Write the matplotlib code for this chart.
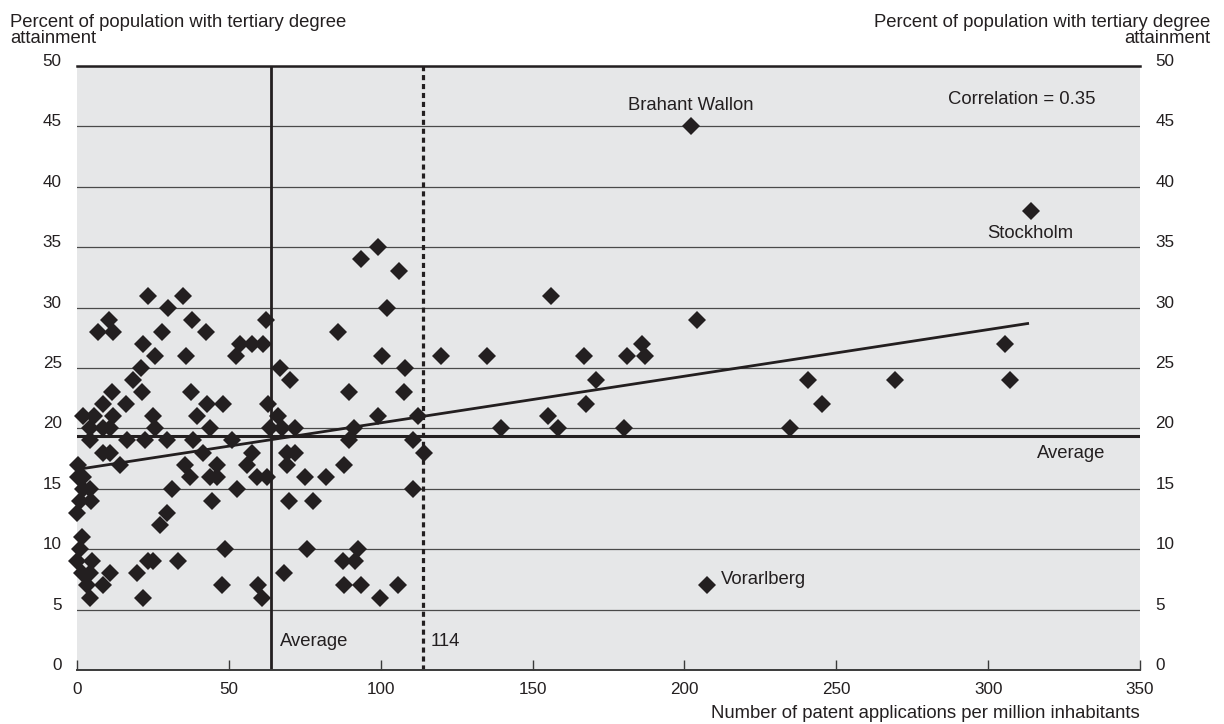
import matplotlib
matplotlib.use("Agg")
import matplotlib.pyplot as plt
import numpy as np

plt.rcParams["font.family"] = ["Liberation Sans", "DejaVu Sans"]

# Regions: patent applications per million inhabitants vs. tertiary attainment (%)
patents = [
    202, 314, 99, 93.5, 106,
    23.5, 35, 156, 30, 102,
    10.6, 37.8, 62.2, 204,
    7, 12, 28, 42.5, 86,
    21.6, 53.7, 57.5, 61.3, 186, 305.5,
    25.7, 36, 52.4, 100.5, 119.7, 135, 167, 181, 187,
    21, 66.8, 108,
    18.5, 70, 171, 240.7, 269.3, 307.2,
    11.4, 21.3, 37.5, 89.7, 107.7,
    8.7, 16, 42.7, 48.2, 63, 167.6, 245.3,
    2.1, 5.5, 12, 25.1, 39.4, 66.3, 99, 112.4, 155,
    4.3, 8.5, 11, 25.7, 43.8, 63.5, 67.4, 71.8, 91.3, 139.6, 158.4, 180, 234.8,
    4.3, 16.4, 22.4, 29.5, 38.3, 50.9, 89.7, 110.7,
    8.7, 10.9, 41.6, 57.5, 69, 71.8, 114.3,
    0.4, 14.2, 35.6, 46, 55.9, 69, 88,
    0.4, 2.1, 37.2, 43.8, 46, 59.2, 62.5, 75.1, 82,
    2.1, 4.3, 31.2, 52.6, 110.7,
    1, 4.5, 44.3, 69.8, 77.8,
    0, 29.5,
    27.3,
    1.5,
    1, 48.7, 75.6, 92.4,
    0, 4.8, 23.5, 25.1, 33.4, 87.7, 91.5,
    1.5, 4.3, 10.9, 19.6, 68.3,
    3.2, 8.7, 47.6, 59.7, 88, 93.4, 105.6, 207.4,
    4.3, 21.8, 60.8, 99.8,
]
tertiary = [
    45, 38, 35, 34, 33,
    31, 31, 31, 30, 30,
    29, 29, 29, 29,
    28, 28, 28, 28, 28,
    27, 27, 27, 27, 27, 27,
    26, 26, 26, 26, 26, 26, 26, 26, 26,
    25, 25, 25,
    24, 24, 24, 24, 24, 24,
    23, 23, 23, 23, 23,
    22, 22, 22, 22, 22, 22, 22,
    21, 21, 21, 21, 21, 21, 21, 21, 21,
    20, 20, 20, 20, 20, 20, 20, 20, 20, 20, 20, 20, 20,
    19, 19, 19, 19, 19, 19, 19, 19,
    18, 18, 18, 18, 18, 18, 18,
    17, 17, 17, 17, 17, 17, 17,
    16, 16, 16, 16, 16, 16, 16, 16, 16,
    15, 15, 15, 15, 15,
    14, 14, 14, 14, 14,
    13, 13,
    12,
    11,
    10, 10, 10, 10,
    9, 9, 9, 9, 9, 9, 9,
    8, 8, 8, 8, 8,
    7, 7, 7, 7, 7, 7, 7, 7,
    6, 6, 6, 6,
]

labelled = {
    "Brahant Wallon": (202, 45),
    "Stockholm": (314, 38),
    "Vorarlberg": (207.4, 7),
}

avg_patents = 64
threshold_patents = 114
avg_tertiary = 19.4
trend_intercept = 16.6
trend_slope = 0.0386
trend_xmax = 313
correlation = 0.35

ink = "#231f20"

fig = plt.figure(figsize=(12.24, 7.24), dpi=100)
ax = fig.add_axes([77 / 1224, 54 / 724, (1140 - 77) / 1224, (670 - 66) / 724])
ax.set_facecolor("#e6e7e8")
ax.set_xlim(0, 350)
ax.set_ylim(0, 50)

# horizontal grid
ax.set_axisbelow(True)
ax.yaxis.grid(True, color="#4a4a4a", lw=0.9)
for side in ("left", "right"):
    ax.spines[side].set_visible(False)
ax.spines["top"].set_color(ink)
ax.spines["top"].set_linewidth(1.8)
ax.spines["bottom"].set_color("#3a3a3a")
ax.spines["bottom"].set_linewidth(1.4)

ax.set_yticks(np.arange(0, 51, 5))
ax.tick_params(axis="y", left=False, right=False, labelleft=True, labelright=True,
               labelsize=12.3, colors=ink)
for tk in ax.yaxis.get_major_ticks():
    tk.label1.set_va("baseline")
    tk.label2.set_va("baseline")
    tk.label2.set_ha("left")
ax.tick_params(axis="y", which="major", pad=7.5)

ax.set_xticks(np.arange(0, 351, 50))
ax.tick_params(axis="x", direction="in", length=7.5, width=1, color="#3a3a3a",
               labelsize=12.3, pad=9, labelcolor=ink)

# reference lines
ax.axhline(avg_tertiary, color=ink, lw=2.2, zorder=2)
ax.axvline(avg_patents, color=ink, lw=2.0, zorder=2)
ax.axvline(threshold_patents, color=ink, lw=2.3, ls=(0, (1.6, 1.2)), zorder=2)

# trend line
tx = np.array([0, trend_xmax])
ax.plot(tx, trend_intercept + trend_slope * tx, color=ink, lw=2.0, zorder=3)

# regions
ax.plot(patents, tertiary, ls="none", marker="D", ms=9.0, color=ink,
        mec=ink, mew=0, zorder=4, clip_on=False)

# labels
fs = 13.3
bx, by = labelled["Brahant Wallon"]
ax.annotate("Brahant Wallon", (bx, by), xytext=(0, 9), textcoords="offset points",
            ha="center", va="bottom", fontsize=fs, color=ink)
sx, sy = labelled["Stockholm"]
ax.annotate("Stockholm", (sx, sy), xytext=(0, -10), textcoords="offset points",
            ha="center", va="top", fontsize=fs, color=ink)
vx, vy = labelled["Vorarlberg"]
ax.annotate("Vorarlberg", (vx, vy), xytext=(10, 4), textcoords="offset points",
            ha="left", va="center", fontsize=fs, color=ink)
ax.text(0.958, 47.2, f"Correlation = {correlation}", transform=ax.get_yaxis_transform(),
        ha="right", va="center", fontsize=fs, color=ink)
ax.annotate("Average", (0.967, avg_tertiary), xycoords=ax.get_yaxis_transform(),
            xytext=(0, -7), textcoords="offset points", ha="right", va="top",
            fontsize=fs, color=ink)
ax.annotate("Average", (avg_patents, 2.4), xytext=(6, 0), textcoords="offset points",
            ha="left", va="center", fontsize=fs, color=ink)
ax.annotate(f"{threshold_patents}", (threshold_patents, 2.4), xytext=(5, 0),
            textcoords="offset points", ha="left", va="center", fontsize=fs, color=ink)

title = "Percent of population with tertiary degree\nattainment"
fig.text(10 / 1224, 1 - 14 / 724, title, ha="left", va="top", fontsize=fs,
         color=ink, linespacing=0.9)
fig.text(1 - 14 / 1224, 1 - 14 / 724, title, ha="right", va="top", fontsize=fs,
         color=ink, linespacing=0.9, multialignment="right")
fig.text(1140 / 1224, 1 - 722 / 724, "Number of patent applications per million inhabitants",
         ha="right", va="bottom", fontsize=fs, color=ink)

fig.savefig("out.png", dpi=100, facecolor="white")
